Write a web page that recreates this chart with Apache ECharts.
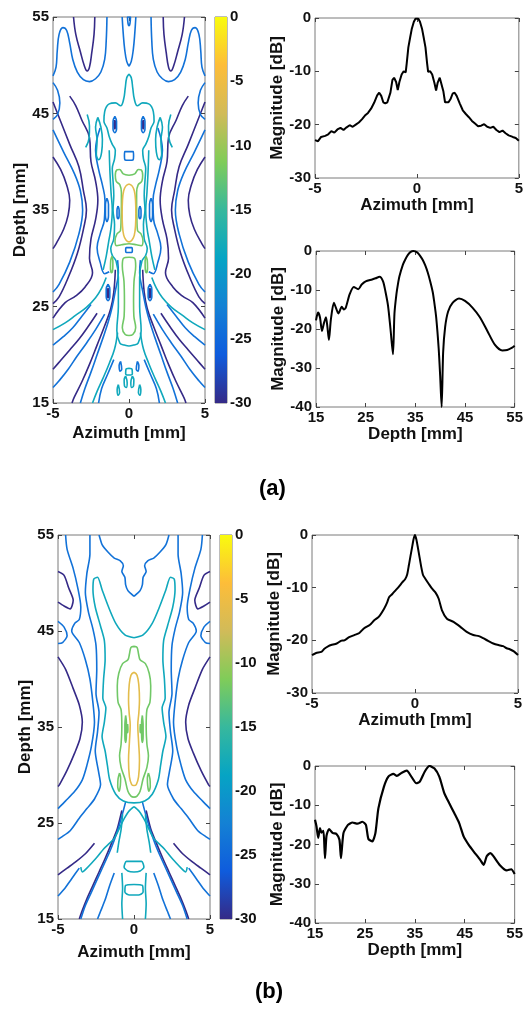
<!DOCTYPE html>
<html>
<head>
<meta charset="utf-8">
<script src="https://cdn.jsdelivr.net/npm/echarts@6/dist/echarts.min.js"></script>
<style>
  html, body { margin: 0; padding: 0; background: #fff; }
  #chart { width: 526px; height: 1014px; }
</style>
</head>
<body>
<div id="chart"></div>
<script>
// ---- line profiles ----
const azAx = [-5, -4.85, -4.7, -4.5, -4.35, -4.2, -4.05, -3.9, -3.75, -3.6, -3.45, -3.3, -3.15, -3, -2.85, -2.7, -2.55, -2.4, -2.25, -2.1, -1.95, -1.85, -1.75, -1.65, -1.55, -1.45, -1.38, -1.3, -1.2, -1.12, -1.02, -0.94, -0.86, -0.75, -0.65, -0.55, -0.5, -0.42, -0.33, -0.25, -0.15, -0.07, 0,
  0.07, 0.15, 0.25, 0.33, 0.42, 0.5, 0.55, 0.65, 0.75, 0.86, 0.94, 1.02, 1.12, 1.2, 1.3, 1.38, 1.45, 1.55, 1.65, 1.75, 1.85, 1.95, 2.1, 2.25, 2.4, 2.55, 2.7, 2.85, 3, 3.15, 3.3, 3.45, 3.6, 3.75, 3.9, 4.05, 4.2, 4.35, 4.5, 4.7, 4.85, 5];
const azAy = [-22.9, -23.1, -22.3, -22.1, -21.8, -21.2, -21.5, -20.9, -20.6, -21.0, -20.5, -20.1, -20.4, -20.0, -19.6, -19.0, -18.3, -17.8, -17.0, -15.9, -14.5, -14.0, -14.6, -15.8, -16.0, -15.8, -16.0, -14.0, -11.6, -11.2, -12.0, -13.5, -12.0, -10.6, -10.0, -10.2, -8.5, -5.5, -3.6, -2.0, -0.7, -0.15, 0,
  -0.15, -0.7, -2.0, -3.6, -5.5, -8.5, -10.1, -10.0, -10.6, -12.2, -13.6, -12.1, -11.2, -11.5, -13.8, -15.8, -16.0, -15.8, -15.2, -14.2, -14.0, -14.6, -16.0, -17.3, -18.0, -18.6, -19.3, -19.8, -20.3, -20.2, -19.9, -20.4, -20.6, -20.4, -21.0, -21.4, -21.1, -21.6, -22.0, -22.3, -22.5, -23.0];

const depAx = [15, 15.4, 15.8, 16.2, 16.6, 17, 17.3, 17.6, 18, 18.6, 19, 19.5, 20.2, 20.6, 21, 21.8, 22.6, 23.5, 24.2, 25, 26.3, 27, 27.8, 28.5, 29, 29.5, 30, 30.5, 30.8, 31.2, 31.5, 31.8, 32.5, 33, 33.5, 34, 34.6, 35, 35.5, 36, 36.5, 37, 37.5, 38, 38.5, 38.8, 39.2, 39.7, 40, 40.3, 40.6, 41, 41.6, 42.5, 43.8, 45, 46.5, 48, 49.5, 51, 52.5, 53.5, 54.5, 55];
const depAy = [-17.8, -15.8, -17.0, -20.5, -18.5, -17.0, -19.5, -22.8, -17.5, -13.3, -14.5, -16.0, -14.3, -15.0, -14.5, -11.0, -9.2, -9.8, -8.6, -7.8, -7.3, -7.0, -6.6, -7.8, -10.5, -14, -20, -26.5, -16, -11, -8.5, -6.5, -3.5, -2.1, -1.0, -0.3, 0, -0.1, -0.5, -1.3, -2.3, -3.7, -5.5, -7.8, -10.5, -13, -17, -25, -32, -40, -26, -19.5, -15.5, -13.3, -12.2, -12.8, -14.5, -17.0, -20.5, -24.0, -25.5, -25.4, -24.8, -24.3];

const azBx = [-5, -4.8, -4.55, -4.4, -4.2, -4.07, -3.8, -3.6, -3.43, -3.2, -2.95, -2.7, -2.47, -2.2, -1.98, -1.75, -1.5, -1.35, -1.26, -1.1, -0.94, -0.78, -0.62, -0.48, -0.38, -0.3, -0.22, -0.14, -0.07, 0,
  0.07, 0.14, 0.22, 0.3, 0.39, 0.5, 0.67, 0.83, 0.99, 1.15, 1.31, 1.55, 1.87, 2.19, 2.51, 2.83, 3.1, 3.31, 3.55, 3.8, 4.05, 4.28, 4.45, 4.6, 4.8, 5];
const azBy = [-22.8, -22.4, -22.2, -21.6, -21.1, -20.9, -20.6, -20.1, -20.0, -19.4, -19.0, -18.6, -17.7, -17.1, -16.2, -15.5, -14.0, -12.8, -11.8, -11.2, -10.5, -9.8, -9.0, -8.4, -7.5, -5.8, -4.0, -2.3, -0.8, 0,
  -0.9, -2.4, -4.2, -6.0, -7.6, -8.3, -9.3, -10.2, -10.9, -12.1, -14.3, -15.9, -16.5, -17.4, -18.4, -19.0, -19.2, -19.6, -20.1, -20.6, -20.9, -21.1, -21.5, -21.7, -22.1, -22.8];

const depBx = [15, 15.3, 15.65, 16, 16.3, 16.7, 17, 17.3, 17.8, 18.6, 19.3, 19.9, 20.2, 20.7, 21.6, 22.5, 23.5, 24.5, 25.2, 25.7, 26.5, 27.1, 27.7, 28.8, 29.7, 30.7, 31.4, 32.4, 33.4, 34.3, 35.3, 36, 37, 37.95, 38.9, 39.9, 40.9, 41.9, 42.9, 43.9, 44.8, 45.8, 46.8, 48.1, 48.8, 49.4, 50.1, 50.7, 52, 53.4, 54.3, 55];
const depBy = [-13.7, -15.4, -18.3, -15.8, -17.0, -16.5, -23.5, -17.8, -16.1, -17.1, -17.3, -18.8, -23.5, -17.1, -15.0, -14.4, -14.7, -14.2, -15.0, -18.6, -19.2, -17.1, -10.8, -5.3, -2.7, -2.0, -2.5, -1.7, -1.2, -2.7, -4.4, -4.0, -1.4, 0, -0.6, -2.7, -6.9, -9.5, -12.0, -14.6, -18.0, -20.1, -21.8, -23.9, -25.2, -23.0, -22.2, -22.9, -25.2, -26.6, -26.3, -27.5];

// ---- contour lines (a), right half [azimuth mm, depth mm]; mirrored to the left ----
// "c" arrays cross the centre line and are closed by their mirror image
const aL6c = [[[0,37.7],[0.2,37.5],[0.35,37.0],[0.43,36.0],[0.45,34.7],[0.43,33.4],[0.35,32.4],[0.2,31.9],[0,31.7]]];
const aL12c = [
  [[0,38.6],[0.38,38.75],[0.62,39.2],[0.8,39.15],[0.9,38.6],[0.85,38.0],[0.6,37.6],[0.5,36.8],[0.5,35.5],[0.52,34.0],[0.56,32.9],[0.8,32.5],[0.92,31.8],[0.8,31.3],[0.49,31.4],[0,31.5]],
  [[0,30.1],[0.36,30.0],[0.44,29.2],[0.33,27.6],[0.3,25.5],[0.32,24.0],[0.44,22.8],[0.25,22.1],[0,22.0]]
];
const aL12s = [[[1.12,30.2],[1.2,29.8],[1.22,29.0],[1.15,28.5],[1.07,28.9],[1.06,29.7],[1.12,30.2]]];
const aL18c = [
  [[0,49.1],[0.15,48.7],[0.25,47.6],[0.35,46.5],[0.55,45.8],[0.9,46.1],[1.3,46.0],[1.6,45.2],[1.65,44.2],[1.45,43.5],[1.3,42.6],[1.1,41.8],[0.9,41.2],[0.95,40.3],[1.1,39.3],[1.05,38],[1.0,36.5],[1.05,35],[0.95,33.5],[1.0,32],[1.2,31.0],[1.1,30.3],[0.85,29.7],[0.7,28],[0.7,25],[0.8,22.5],[0.6,21.2],[0.3,21.0],[0,20.9]],
  [[0,18.6],[0.2,18.5],[0.22,18.0],[0,17.9]]
];
const aL18s = [
  [[2.05,44.6],[1.85,43.6],[1.75,42.3],[1.8,41],[2.0,40.2],[2.15,40.8],[2.1,42.2],[2.2,43.6],[2.05,44.6]],
  [[2.75,44.9],[2.6,43.7],[2.62,42.5],[2.85,41.5]],
  [[0.22,17.8],[0.32,17.4],[0.3,16.8],[0.18,16.6],[0.12,17.1],[0.22,17.8]],
  [[0.7,16.9],[0.78,16.4],[0.72,15.8],[0.62,16.1],[0.7,16.9]],
  [[1.3,41.2],[1.25,38.8],[1.18,36.8],[1.1,35.0],[1.18,33.2],[1.35,31.6],[1.5,30.2],[1.7,28.8]],
  [[1.5,28.0],[1.8,26.9],[2.2,25.9],[2.8,24.9],[3.5,24.1],[4.2,23.3],[5,22.6]],
  [[0.75,22.3],[0.95,20.6],[1.3,19.1],[1.7,17.6],[2.1,16.2],[2.4,15]]
];
const aL24c = [
  [[0,55],[0.1,55],[0.06,54.3],[0,54.1]],
  [[0,41.05],[0.28,41.05],[0.3,40.6],[0.27,40.2],[0,40.15]],
  [[0,31.1],[0.18,31.1],[0.22,30.85],[0.18,30.6],[0,30.6]]
];
const aL24s = [
  [[0,49.9],[0.15,50.4],[0.28,51.6],[0.38,53.3],[0.45,55]],
  [[1.45,55],[1.5,52.5],[1.6,50.6],[1.85,49.3],[2.2,48.6],[2.6,48.3],[3.0,48.5],[3.4,49.3],[3.7,50.6],[3.9,52.3],[4.1,53.6],[4.35,53.9],[4.6,53.2],[4.72,51.5],[4.8,49.8],[5,48.9]],
  [[5,48.2],[4.7,47.4],[4.55,46.1],[4.7,44.9],[5,44.4]],
  [[0.72,35.4],[0.79,35.0],[0.79,34.4],[0.72,34.1],[0.65,34.4],[0.65,35.0],[0.72,35.4]],
  [[0.93,44.7],[1.05,44.2],[1.05,43.4],[0.93,43.0],[0.82,43.4],[0.82,44.2],[0.93,44.7]],
  [[1.38,27.3],[1.5,26.8],[1.5,26.0],[1.38,25.6],[1.26,26.0],[1.26,26.8],[1.38,27.3]],
  [[1.9,43.5],[2.2,41.2],[2.0,39.2],[1.75,37.6],[1.58,36.0],[1.62,34.0],[1.88,32.6],[2.1,31.1],[1.9,29.6],[1.6,28.4],[1.3,28.6]],
  [[1.45,36.2],[1.55,35.6],[1.55,34.4],[1.45,33.8],[1.35,34.4],[1.35,35.6],[1.45,36.2]],
  [[5,43.3],[4.3,41.0],[3.6,38.8],[3.2,37.0],[3.05,35.0],[3.3,32.5],[3.9,29.6],[4.6,27.3],[5,26.5]],
  [[0.75,29.8],[0.7,28.5],[0.9,26.6],[1.1,25.0],[1.35,23.5],[1.7,21.8],[2.1,20.0],[2.5,18.2],[2.9,16.5],[3.2,15]],
  [[1.6,24.2],[2.2,22.6],[2.8,21.2],[3.4,19.9],[4.0,18.5],[4.6,17.3],[5,16.6]],
  [[2.5,25.2],[3.1,24.0],[3.7,22.8],[4.3,21.9],[5,21.0]],
  [[1.0,19.5],[1.4,18.0],[1.8,16.5],[2.0,15]],
  [[0.55,19.3],[0.65,18.9],[0.6,18.3],[0.48,18.5],[0.55,19.3]]
];
const aL30s = [
  [[2.25,55],[2.3,53.2],[2.45,51.3],[2.6,49.8],[2.75,49.4],[2.95,50.0],[3.2,51.4],[3.5,53.2],[3.65,55]],
  [[0.93,44.3],[0.98,43.9],[0.93,43.4],[0.88,43.9],[0.93,44.3]],
  [[1.38,26.9],[1.43,26.4],[1.38,25.9],[1.33,26.4],[1.38,26.9]],
  [[3.9,46.8],[3.5,45.8],[3.1,44.3],[2.6,42.5],[2.5,40.0],[2.2,38.0],[2.05,36.0],[2.2,34.0],[2.5,32.0],[2.6,30.0],[2.4,28.5],[2.9,27.0],[3.5,26.1],[4.2,25.4],[5,23.8]],
  [[5,46.2],[4.5,44.2],[3.9,41.8],[3.3,39.5],[3.0,37.0],[2.8,35.0],[3.0,33.0],[3.4,30.5],[4.0,28.0],[4.6,26.0],[5,25.3]],
  [[5,40.5],[4.5,39.2],[4.1,37.6],[3.9,36.0],[4.0,34.5],[4.3,33.0],[4.8,31.5],[5,31.0]],
  [[0.9,28.8],[1.0,26.5],[1.2,24.8],[1.6,23.0],[2.1,21.0],[2.6,19.0],[3.1,17.2],[3.6,15.6],[3.75,15]],
  [[2.1,24.3],[2.7,22.9],[3.3,21.6],[3.9,20.5],[4.5,19.4],[5,18.5]]
];

// ---- contour lines (b) ----
const bL6c = [[[0,40.7],[0.2,40.4],[0.32,39.3],[0.36,37.8],[0.32,36.5],[0.25,35.2],[0.3,33.5],[0.36,31.5],[0.3,29.8],[0.15,29.0],[0,28.9]]];
const bL12c = [[[0,43.4],[0.2,43.3],[0.3,42.6],[0.4,42.0],[0.75,41.6],[1.0,40.6],[1.1,39.3],[1.05,37.6],[0.85,36.8],[0.8,35.0],[0.85,33.2],[0.95,32.0],[0.85,30.8],[0.6,29.6],[0.4,28.3],[0.2,27.8],[0,27.7]]];
const bL12s = [
  [[0.55,36.2],[0.6,35.2],[0.6,34.0],[0.55,33.4],[0.5,34.2],[0.5,35.5],[0.55,36.2]],
  [[0.95,30.2],[1.05,29.6],[1.07,28.8],[0.98,28.3],[0.9,28.9],[0.88,29.7],[0.95,30.2]],
  [[0.42,35.3],[0.44,34.8],[0.42,34.4],[0.4,34.8],[0.42,35.3]]
];
const bL18c = [
  [[0,44.3],[0.6,44.6],[1.2,45.8],[1.7,47.6],[2.1,49.3],[2.4,50.6],[2.65,50.4],[2.7,49.3],[2.55,47.5],[2.2,45.5],[1.95,44.0],[1.9,42.0],[2.0,40.0],[2.05,38.0],[1.85,37.0],[1.95,35.5],[2.1,34.0],[1.9,32.5],[1.75,31.0],[1.6,29.5],[1.2,28.0],[0.7,27.3],[0,27.1]],
  [[0,21.0],[0.5,21.0],[0.65,20.4],[0.4,20.0],[0,19.9]],
  [[0,18.6],[0.55,18.5],[0.6,17.8],[0.3,17.5],[0,17.5]]
];
const bL18s = [
  [[0,26.7],[0.35,26.2],[0.7,25.3],[1.0,24.3],[1.3,23.4],[1.6,22.9],[2.0,22.3],[2.4,21.5],[2.8,20.8],[3.1,20.3],[3.4,19.9],[3.5,20.4]],
  [[0.8,19.8],[0.75,18.2],[0.8,16.6],[0.75,15]],
  [[0.75,25.9],[0.85,24.3],[1.0,23.0],[1.1,21.9]]
];
const bL24s = [
  [[0,48.6],[0.2,48.9],[0.4,49.2],[0.55,49.8],[0.6,50.6],[0.8,51.2],[0.7,51.8],[0.9,52.3],[1.3,52.6],[1.7,53.2],[2.1,54],[2.3,55]],
  [[2.9,55],[2.9,53],[3.1,51],[3.2,49],[3.0,47],[2.7,45.2],[2.5,43.5],[2.45,41],[2.5,38.5],[2.3,36.5],[2.4,34.5],[2.55,32.5],[2.35,30.5],[2.2,29],[2.6,27.5],[3.1,26.5],[3.6,25.5],[4.2,24.2],[4.8,23.5],[5,23.3]],
  [[1.3,19.8],[1.6,18.5],[1.9,17.0],[2.2,15.8],[2.4,15]],
  [[4.5,55],[4.4,53.5],[4.0,51.5],[3.7,49.5],[3.5,47.5],[3.6,46.2],[3.9,45.8],[4.1,45.0],[3.6,43.8],[3.2,42.0],[2.9,40.0],[2.7,37.5],[2.6,35.5],[2.8,33.0],[3.1,31.0],[3.4,29.5],[3.9,28.3],[4.5,27.3],[5,26.5]],
  [[0.55,27.2],[0.75,26.0],[1.0,24.6],[1.3,23.2],[1.6,22.0],[2.0,20.6],[2.4,19.2],[2.8,17.8],[3.2,16.4],[3.5,15]],
  [[3.6,20.3],[4.1,19.2],[4.6,18.1],[5,17.4]],
  [[5,46.0],[4.6,45.4],[4.4,44.5],[4.7,43.8],[5,43.7]]
];
const bL30s = [
  [[5,51.2],[4.6,50.8],[4.3,49.5],[4.0,48.2],[4.2,47.3],[4.6,47.6],[5,48.0]],
  [[5,42.3],[4.5,41.0],[4.0,39.0],[3.6,37.3],[3.4,35.5],[3.55,33.8],[3.9,32.3],[4.4,30.5],[4.9,29.0],[5,28.8]],
  [[0.8,26.3],[1.1,24.4],[1.5,22.8],[1.9,21.3],[2.3,19.9],[2.7,18.5],[3.1,17.1],[3.4,15.9],[3.6,15]],
  [[2.6,22.9],[3.2,21.8],[3.8,21.0],[4.4,20.3],[5,19.6]]
];

// parula colormap stops (-30 .. 0)
const parulaStops = ['#352a87', '#0f5cdd', '#1481d4', '#06a4c4', '#37b89d', '#80cc59', '#d1bb59', '#fdbd39', '#f9fb0e'];

function hex2rgb(h) { return [1, 3, 5].map(i => parseInt(h.substr(i, 2), 16)); }
function levelColor(lv) {
  const t = (lv + 30) / 30, n = parulaStops.length - 1;
  const i = Math.min(n - 1, Math.floor(t * n)), f = t * n - i;
  const a = hex2rgb(parulaStops[i]), b = hex2rgb(parulaStops[i + 1]);
  return 'rgb(' + a.map((v, k) => Math.round(v + (b[k] - v) * f)).join(',') + ')';
}
const mirror = p => p.map(q => [-q[0], q[1]]);

const FONT = '"Liberation Sans", Arial, sans-serif';
const grids = [], xAxes = [], yAxes = [], series = [];

function panel(g, xa, ya) {
  const gi = grids.length;
  grids.push(Object.assign({ show: true, borderColor: '#7a7a7a', borderWidth: 1, backgroundColor: '#fff' }, g));
  const tick = { inside: true, length: 4, lineStyle: { color: '#444' } };
  const noLine = { show: false, onZero: false };
  const lab = { color: '#111', fontWeight: 'bold', fontSize: 15, fontFamily: FONT };
  const nm = { color: '#111', fontWeight: 'bold', fontSize: 17, fontFamily: FONT };
  xAxes.push({ gridIndex: gi, type: xa.type || 'value', min: xa.min, max: xa.max, interval: xa.interval, data: xa.data,
    name: xa.name, nameLocation: 'middle', nameGap: xa.gap, nameTextStyle: nm,
    axisLine: noLine, axisTick: Object.assign({ show: xa.tick !== false }, tick), splitLine: { show: false },
    axisLabel: Object.assign({ margin: 3, show: xa.label !== false }, lab) });
  yAxes.push({ gridIndex: gi, type: 'value', min: ya.min, max: ya.max, interval: ya.interval, position: ya.position || 'left',
    name: ya.name, nameLocation: 'middle', nameGap: ya.gap, nameTextStyle: nm,
    axisLine: noLine, axisTick: tick, splitLine: { show: false },
    axisLabel: Object.assign({ margin: ya.margin || 4 }, lab) });
  // opposite-side ticks, MATLAB style box
  if (xa.type !== 'category') {
    xAxes.push({ gridIndex: gi, type: 'value', min: xa.min, max: xa.max, interval: xa.interval, position: 'top',
      axisLine: noLine, axisTick: tick, axisLabel: { show: false }, splitLine: { show: false } });
  }
  yAxes.push({ gridIndex: gi, type: 'value', min: ya.min, max: ya.max, interval: ya.interval,
    position: ya.position === 'right' ? 'left' : 'right',
    axisLine: noLine, axisTick: tick, axisLabel: { show: false }, splitLine: { show: false } });
  return { x: xa.type !== 'category' ? xAxes.length - 2 : xAxes.length - 1, y: yAxes.length - 2 };
}

function addLine(ax, pts, color, width, smooth) {
  series.push({ type: 'line', xAxisIndex: ax.x, yAxisIndex: ax.y, data: pts, showSymbol: false, smooth: smooth,
    silent: true, lineStyle: { color: color, width: width }, z: 3 });
}
function addContours(ax, lv, centre, side, smooth) {
  const c = levelColor(lv);
  (centre || []).forEach(p => addLine(ax, p.concat(mirror(p).reverse()), c, 1.6, smooth));
  (side || []).forEach(p => { addLine(ax, p, c, 1.6, smooth); addLine(ax, mirror(p), c, 1.6, smooth); });
}
function addColorbar(ax) {
  series.push({ type: 'bar', xAxisIndex: ax.x, yAxisIndex: ax.y, data: [-30], barWidth: '100%', silent: true,
    itemStyle: { color: new echarts.graphic.LinearGradient(0, 0, 0, 1,
      parulaStops.slice().reverse().map((c, i) => ({ offset: i / (parulaStops.length - 1), color: c }))) } });
}
const zip = (xs, ys) => xs.map((x, i) => [x, ys[i]]);

// (a) contour
const cA = panel({ left: 53, top: 17, width: 152, height: 386 },
  { min: -5, max: 5, interval: 5, name: 'Azimuth [mm]', gap: 22 },
  { min: 15, max: 55, interval: 10, name: 'Depth [mm]', gap: 22 });
addContours(cA, -30, null, aL30s, 0.4);
addContours(cA, -24, aL24c, aL24s, 0.4);
addContours(cA, -18, aL18c, aL18s, 0.4);
addContours(cA, -12, aL12c, aL12s, 0.4);
addContours(cA, -6, aL6c, null, 0.4);
const cbA = panel({ left: 215, top: 17, width: 12, height: 386 },
  { type: 'category', data: [''], label: false, tick: false },
  { min: -30, max: 0, interval: 5, position: 'right', margin: 3 });
addColorbar(cbA);

// (a) profiles
const pA1 = panel({ left: 315, top: 18, width: 206, height: 160 },
  { min: -5, max: 5, interval: 5, name: 'Azimuth [mm]', gap: 19 },
  { min: -30, max: 0, interval: 10, name: 'Magnitude [dB]', gap: 27 });
addLine(pA1, zip(azAx, azAy), '#000', 2, false);
const pA2 = panel({ left: 316, top: 251, width: 204, height: 156 },
  { min: 15, max: 55, interval: 10, name: 'Depth [mm]', gap: 19 },
  { min: -40, max: 0, interval: 10, name: 'Magnitude [dB]', gap: 28 });
addLine(pA2, zip(depAx, depAy), '#000', 2, 0.25);

// (b) contour
const cB = panel({ left: 58, top: 535, width: 152, height: 384 },
  { min: -5, max: 5, interval: 5, name: 'Azimuth [mm]', gap: 25 },
  { min: 15, max: 55, interval: 10, name: 'Depth [mm]', gap: 24 });
addContours(cB, -30, null, bL30s, 0.25);
addContours(cB, -24, null, bL24s, 0.25);
addContours(cB, -18, bL18c, bL18s, 0.25);
addContours(cB, -12, bL12c, bL12s, 0.3);
addContours(cB, -6, bL6c, null, 0.4);
const cbB = panel({ left: 220, top: 535, width: 12, height: 384 },
  { type: 'category', data: [''], label: false, tick: false },
  { min: -30, max: 0, interval: 5, position: 'right', margin: 3 });
addColorbar(cbB);

// (b) profiles
const pB1 = panel({ left: 312, top: 535, width: 206, height: 158 },
  { min: -5, max: 5, interval: 5, name: 'Azimuth [mm]', gap: 19 },
  { min: -30, max: 0, interval: 10, name: 'Magnitude [dB]', gap: 26 });
addLine(pB1, zip(azBx, azBy), '#000', 2, 0.2);
const pB2 = panel({ left: 315, top: 766, width: 203, height: 157 },
  { min: 15, max: 55, interval: 10, name: 'Depth [mm]', gap: 19 },
  { min: -40, max: 0, interval: 10, name: 'Magnitude [dB]', gap: 28 });
addLine(pB2, zip(depBx, depBy), '#000', 2.2, 0.2);

const chart = echarts.init(document.getElementById('chart'));
chart.setOption({
  animation: false,
  backgroundColor: '#fff',
  title: [
    { text: '(a)', left: 254, top: 473, textStyle: { fontSize: 22, fontWeight: 'bold', color: '#000', fontFamily: FONT } },
    { text: '(b)', left: 250, top: 976, textStyle: { fontSize: 22, fontWeight: 'bold', color: '#000', fontFamily: FONT } }
  ],
  grid: grids,
  xAxis: xAxes,
  yAxis: yAxes,
  series: series
});
</script>
</body>
</html>
